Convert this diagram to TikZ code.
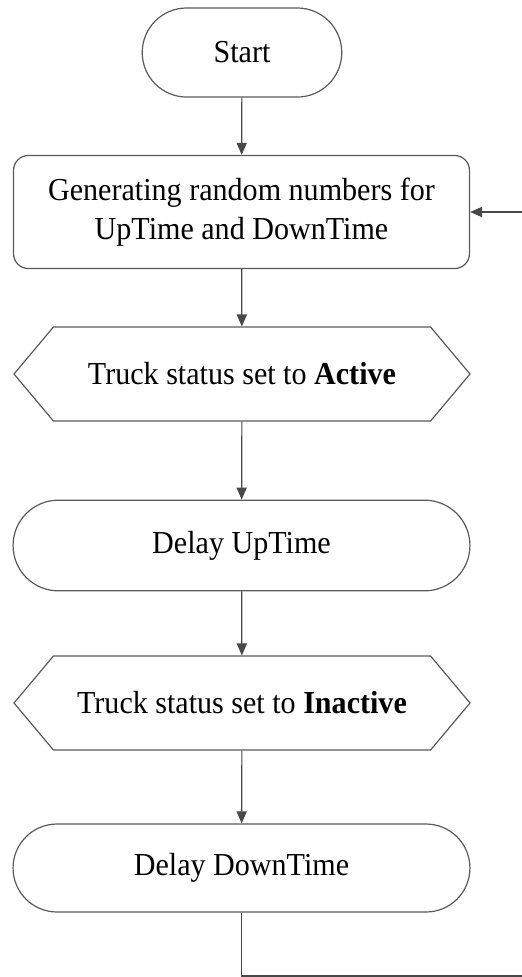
\documentclass[tikz,border=0pt]{standalone}
\usepackage{fontspec}
\setmainfont[FakeStretch=0.94]{Liberation Serif}
\usetikzlibrary{positioning,calc}
\usetikzlibrary{arrows.meta,shapes.misc,shapes.symbols}
\definecolor{FlowGray}{RGB}{90,90,90}
\tikzset{term/.style={rounded rectangle,draw=FlowGray,line width=0.45pt,minimum width=178pt,minimum height=34pt,font=\fontsize{12}{14.6}\selectfont}, proc/.style={rectangle,rounded corners=5.6pt,draw=FlowGray,line width=0.45pt,minimum width=171pt,minimum height=42.4pt,align=center,font=\fontsize{12}{14.6}\selectfont}, hexa/.style={signal,signal to=west and east,signal pointer angle=100,draw=FlowGray,line width=0.45pt,minimum width=171pt,minimum height=35.2pt,font=\fontsize{12}{14.6}\selectfont}, flow/.style={draw=FlowGray!80!black,line width=0.45pt,-{Triangle[length=4.5pt,width=3.8pt]}}}

\begin{document}
\begin{tikzpicture}[x=0.375pt,y=-0.375pt]
\useasboundingbox (0,0) rectangle (522,977);
\node[term,minimum width=81.5pt,minimum height=33.4pt] (start) at (242,52.5) {Start};
\node[proc] (gen) at (241.5,212) {Generating random numbers for\\UpTime and DownTime};
\node[hexa] (act) at (242,374) {Truck status set to \textbf{Active}};
\node[term] (up) at (241.5,545.5) {Delay UpTime};
\node[hexa] (inact) at (242,703) {Truck status set to \textbf{Inactive}};
\node[term,minimum height=33pt] (down) at (241.5,868) {Delay DownTime};
\coordinate (back) at (526,976);
\draw[flow] (start) -- (gen);
\draw[flow] (gen) -- (act);
\draw[flow] (act) -- (up);
\draw[flow] (up) -- (inact);
\draw[flow] (inact) -- (down);
\draw[flow] (down.south) |- (back) |- (gen.east);
\end{tikzpicture}
\end{document}
